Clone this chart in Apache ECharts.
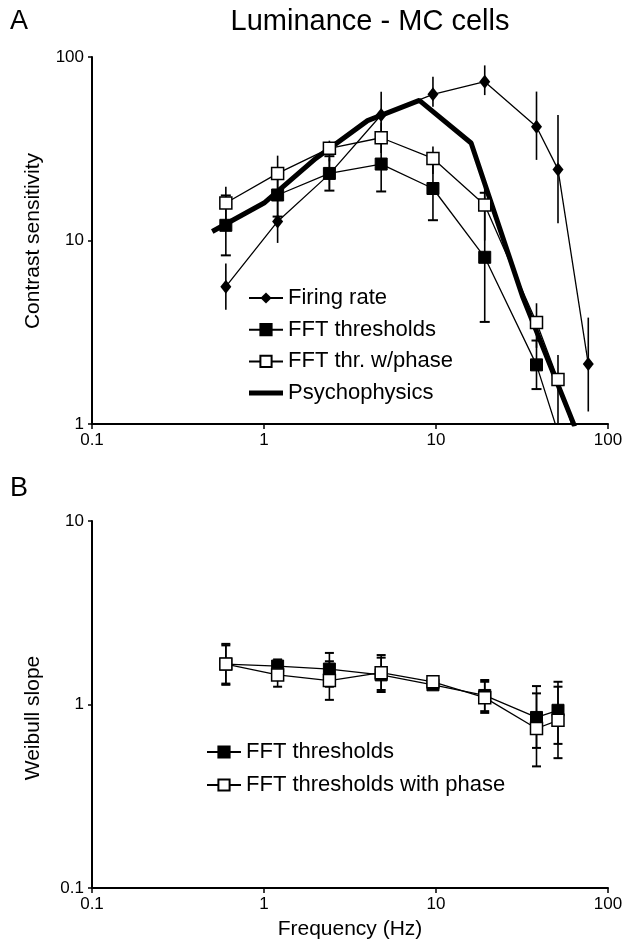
<!DOCTYPE html>
<html><head><meta charset="utf-8">
<script src="https://cdn.jsdelivr.net/npm/echarts@6/dist/echarts.min.js"></script>
<style>html,body{margin:0;padding:0;background:#fff}#c{width:634px;height:942px}</style>
</head><body><div id="c"></div>
<script>
// ---------- Panel A: Luminance - MC cells (contrast sensitivity) ----------
const firingFreq = [0.6, 1.2, 2.4, 4.8, 9.6, 19.2, 38.4, 51.2, 76.8];
const firingVal  = [5.6, 12.7, 23.0, 48.3, 62.6, 73.4, 41.7, 24.4, 2.12];
const firingLo   = [4.2, 9.7, 19.0, 36.0, 53.6, 62.0, 27.5, 12.4, 1.17];
const firingHi   = [7.5, 16.6, 28.0, 64.7, 78.0, 90.0, 64.8, 48.3, 3.8];

const fftFreq = [0.6, 1.2, 2.4, 4.8, 9.6, 19.2, 38.4, 51.2];
const fftVal  = [12.1, 17.7, 23.2, 26.1, 19.2, 8.1, 2.1, 0.9];
const fftLo   = [8.3, 13.5, 18.7, 18.5, 12.9, 3.6, 1.55, null];
const fftHi   = [17.6, 23.0, 28.8, 36.8, 28.6, 18.2, 2.85, null];

const phaseFreq = [0.6, 1.2, 2.4, 4.8, 9.6, 19.2, 38.4, 51.2, 76.8];
const phaseVal  = [16.0, 23.2, 31.8, 36.3, 28.0, 15.6, 3.57, 1.75, 0.5];
const phaseLo   = [13.0, 18.6, 27.0, 30.0, 23.0, 10.0, 2.6, 1.0, null];
const phaseHi   = [19.6, 29.0, 35.0, 44.0, 32.5, 20.0, 4.55, 2.38, null];

const psychoFreq = [0.5, 1, 2, 4, 8, 16, 32, 64];
const psychoVal  = [11.2, 16, 28, 45, 58, 34, 4.9, 0.97];

// ---------- Panel B: Weibull slope ----------
const wFreq   = [0.6, 1.2, 2.4, 4.8, 9.6, 19.2, 38.4, 51.2];
const wFftVal = [1.66, 1.62, 1.56, 1.45, 1.28, 1.12, 0.85, 0.93];
const wFftLo  = [1.30, 1.45, 1.25, 1.17, 1.22, 0.92, 0.58, 0.61];
const wFftHi  = [2.10, 1.76, 1.91, 1.80, 1.36, 1.33, 1.26, 1.33];
const wPhVal  = [1.66, 1.45, 1.35, 1.49, 1.33, 1.09, 0.74, 0.82];
const wPhLo   = [1.28, 1.25, 1.06, 1.20, 1.26, 0.90, 0.46, 0.51];
const wPhHi   = [2.14, 1.62, 1.72, 1.86, 1.40, 1.36, 1.15, 1.25];

const xTicks = [0.1, 1, 10, 100];
const yTicksA = [1, 10, 100];
const yTicksB = [0.1, 1, 10];

const FONT = '"Liberation Sans", Arial, Helvetica, sans-serif';
const chart = echarts.init(document.getElementById('c'), null, {renderer: 'canvas'});

function fmt(v) { return String(+Number(v).toPrecision(3)); }

function xAxis(gi) {
  return {
    type: 'log', logBase: 10, gridIndex: gi,
    min: xTicks[0], max: xTicks[xTicks.length - 1],
    axisLine: {show: true, lineStyle: {color: '#000', width: 2}},
    axisTick: {show: true, inside: false, length: 5, lineStyle: {color: '#000', width: 1.5}},
    axisLabel: {color: '#000', fontSize: 17, fontFamily: FONT, margin: 8, formatter: fmt},
    splitLine: {show: false}, minorTick: {show: false}
  };
}
function yAxis(gi, ticks) {
  return {
    type: 'log', logBase: 10, gridIndex: gi,
    min: ticks[0], max: ticks[ticks.length - 1],
    axisLine: {show: true, lineStyle: {color: '#000', width: 2}},
    axisTick: {show: true, inside: false, length: 4, lineStyle: {color: '#000', width: 1.5}},
    axisLabel: {color: '#000', fontSize: 17, fontFamily: FONT, margin: 8, formatter: fmt},
    splitLine: {show: false}, minorTick: {show: false}
  };
}

function zip(f, v) { return f.map((x, i) => [x, v[i]]); }

function errSeries(ai, freq, lo, hi, cap, capW, lw) {
  const data = [];
  freq.forEach((f, i) => { if (lo[i] != null && hi[i] != null) data.push([f, lo[i], hi[i]]); });
  return {
    type: 'custom', xAxisIndex: ai, yAxisIndex: ai, z: 1, silent: true,
    encode: {x: 0, y: [1, 2]},
    data: data,
    renderItem: function (params, api) {
      const x = api.value(0), l = api.value(1), h = api.value(2);
      const p1 = api.coord([x, l]), p2 = api.coord([x, h]);
      const ch = [{type: 'line', shape: {x1: p1[0], y1: p1[1], x2: p2[0], y2: p2[1]},
        style: {stroke: '#000', lineWidth: lw}}];
      if (cap) {
        [p1, p2].forEach(p => ch.push({type: 'line',
          shape: {x1: p[0] - capW / 2, y1: p[1], x2: p[0] + capW / 2, y2: p[1]},
          style: {stroke: '#000', lineWidth: 2}}));
      }
      return {type: 'group', children: ch};
    }
  };
}

const thin = {color: '#000', width: 1.3};
const rectOpen = {color: '#fff', borderColor: '#000', borderWidth: 1.5};
const rectFill = {color: '#000', borderColor: '#000', borderWidth: 1};
const thickIcon = 'path://M0,0 H34 V5 H0 Z';

const option = {
  animation: false,
  backgroundColor: '#fff',
  grid: [
    {left: 92, top: 57, width: 516, height: 367, containLabel: false},
    {left: 92, top: 521, width: 516, height: 367, containLabel: false}
  ],
  xAxis: [xAxis(0), xAxis(1)],
  yAxis: [yAxis(0, yTicksA), yAxis(1, yTicksB)],
  legend: [
    {
      data: ['Firing rate', 'FFT thresholds', 'FFT thr. w/phase',
             {name: 'Psychophysics', icon: thickIcon, itemStyle: {color: '#000'}}],
      orient: 'vertical', left: 243, top: 282, padding: 5,
      itemWidth: 34, itemHeight: 14, itemGap: 9.7,
      textStyle: {color: '#000', fontSize: 22, fontFamily: FONT, lineHeight: 22},
      selectedMode: false
    },
    {
      data: ['FFT thresholds ', 'FFT thresholds with phase'],
      orient: 'vertical', left: 201, top: 736, padding: 5,
      itemWidth: 34, itemHeight: 14, itemGap: 11,
      textStyle: {color: '#000', fontSize: 22, fontFamily: FONT, lineHeight: 22},
      selectedMode: false
    }
  ],
  graphic: [
    {type: 'text', left: 10, top: 8, style: {text: 'A', fontSize: 27, fontFamily: FONT, fill: '#000'}},
    {type: 'text', left: 10, top: 475, style: {text: 'B', fontSize: 27, fontFamily: FONT, fill: '#000'}},
    {type: 'text', x: 370, y: 22, style: {text: 'Luminance - MC cells', fontSize: 29, fontFamily: FONT, fill: '#000', align: 'center', verticalAlign: 'middle'}},
    {type: 'text', x: 33, y: 241, rotation: Math.PI / 2, style: {text: 'Contrast sensitivity', fontSize: 21, fontFamily: FONT, fill: '#000', align: 'center', verticalAlign: 'middle'}},
    {type: 'text', x: 33, y: 718, rotation: Math.PI / 2, style: {text: 'Weibull slope', fontSize: 21, fontFamily: FONT, fill: '#000', align: 'center', verticalAlign: 'middle'}},
    {type: 'text', x: 350, y: 929, style: {text: 'Frequency (Hz)', fontSize: 21, fontFamily: FONT, fill: '#000', align: 'center', verticalAlign: 'middle'}}
  ],
  series: [
    errSeries(0, firingFreq, firingLo, firingHi, false, 0, 1.6),
    errSeries(0, phaseFreq, phaseLo, phaseHi, false, 0, 1.6),
    errSeries(0, fftFreq, fftLo, fftHi, true, 10, 1.6),
    {name: 'Psychophysics', type: 'line', xAxisIndex: 0, yAxisIndex: 0, z: 3, clip: true,
      data: zip(psychoFreq, psychoVal), showSymbol: false, symbol: 'none',
      lineStyle: {color: '#000', width: 5}, itemStyle: {color: '#000'}},
    {name: 'Firing rate', type: 'line', xAxisIndex: 0, yAxisIndex: 0, z: 4, clip: true,
      data: zip(firingFreq, firingVal), symbol: 'diamond', symbolSize: [11, 14],
      lineStyle: thin, itemStyle: {color: '#000'}},
    {name: 'FFT thresholds', type: 'line', xAxisIndex: 0, yAxisIndex: 0, z: 4, clip: true,
      data: zip(fftFreq, fftVal), symbol: 'rect', symbolSize: 12,
      lineStyle: thin, itemStyle: rectFill},
    {name: 'FFT thr. w/phase', type: 'line', xAxisIndex: 0, yAxisIndex: 0, z: 4, clip: true,
      data: zip(phaseFreq, phaseVal), symbol: 'rect', symbolSize: 12,
      lineStyle: thin, itemStyle: rectOpen},

    errSeries(1, wFreq, wFftLo, wFftHi, true, 9, 1.6),
    errSeries(1, wFreq, wPhLo, wPhHi, true, 9, 1.6),
    {name: 'FFT thresholds ', type: 'line', xAxisIndex: 1, yAxisIndex: 1, z: 4, clip: true,
      data: zip(wFreq, wFftVal), symbol: 'rect', symbolSize: 12,
      lineStyle: thin, itemStyle: rectFill},
    {name: 'FFT thresholds with phase', type: 'line', xAxisIndex: 1, yAxisIndex: 1, z: 4, clip: true,
      data: zip(wFreq, wPhVal), symbol: 'rect', symbolSize: 12,
      lineStyle: thin, itemStyle: rectOpen}
  ]
};
chart.setOption(option);
</script>
</body></html>
